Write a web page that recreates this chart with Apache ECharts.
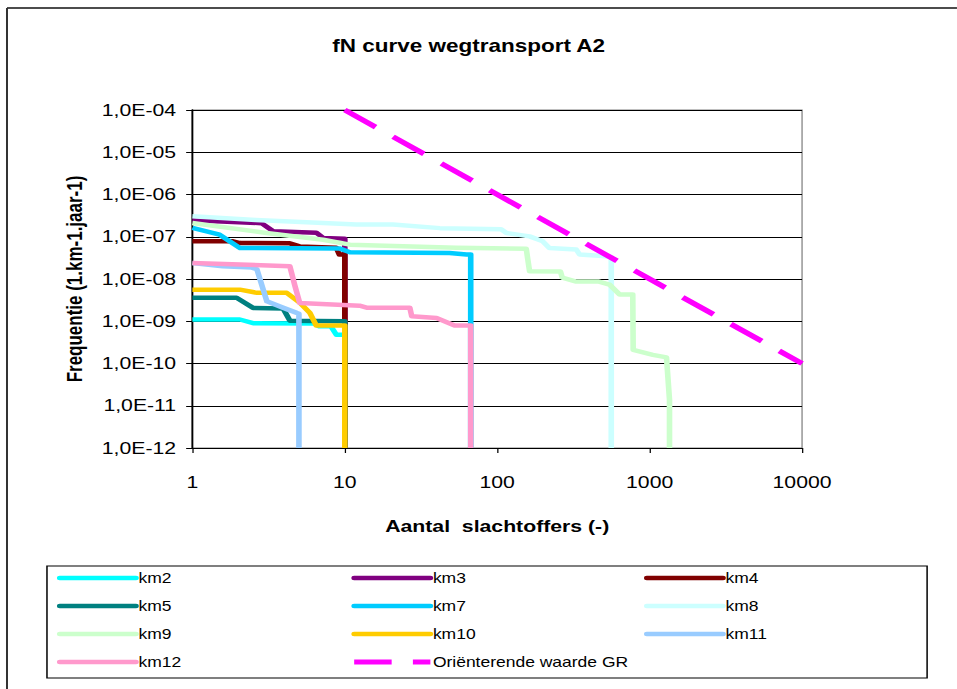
<!DOCTYPE html>
<html>
<head>
<meta charset="utf-8">
<script src="https://cdn.jsdelivr.net/npm/echarts@6/dist/echarts.min.js"></script>
<style>
html,body{margin:0;padding:0;background:#fff;overflow:hidden;width:957px;height:689px;}
#c{width:766px;height:689px;transform:scaleX(1.2493);transform-origin:0 0;}
</style>
</head>
<body>
<div id="c"></div>
<script>
// ---- data (N = aantal slachtoffers, f = frequentie per km per jaar) ----
const seriesNames = ['km2','km3','km4','km5','km7','km8','km9','km10','km11','km12','Oriënterende waarde GR'];
const xTickLabels = ['1','10','100','1000','10000'];
const yTickLabels = ['1,0E-12','1,0E-11','1,0E-10','1,0E-09','1,0E-08','1,0E-07','1,0E-06','1,0E-05','1,0E-04'];

const km2 = [[1,1.1e-9],[2.05,1.1e-9],[2.5,9.0e-10],[6.3,8.8e-10],[6.8,7.6e-10],[8.1,7.6e-10],[8.8,4.8e-10],[9.7,4.8e-10]];
const km3 = [[1,2.45e-7],[2.84,2.1e-7],[3.39,1.35e-7],[6.5,1.25e-7],[7.2,9.4e-8],[10,9.0e-8],[10.05,1e-12]];
const km4 = [[1,7.8e-8],[1.85,7.8e-8],[2.05,7.1e-8],[4.36,7.0e-8],[5.06,5.9e-8],[8.8,5.5e-8],[9.2,3.8e-8],[10,3.8e-8],[10,1e-12]];
const km5 = [[1,3.6e-9],[1.95,3.6e-9],[2.5,2.07e-9],[3.94,2.0e-9],[4.36,1.03e-9],[10,1.0e-9],[10,1e-12]];
const km7 = [[1,1.62e-7],[1.51,1.12e-7],[2.05,5.4e-8],[9.2,5.3e-8],[10.8,4.3e-8],[48.6,4.1e-8],[62.9,3.8e-8],[67,3.8e-8],[67,1e-12]];
const km8 = [[1,3.04e-7],[2.6,2.5e-7],[4.36,2.3e-7],[11.9,1.94e-7],[20.7,1.94e-7],[42,1.6e-7],[106,1.5e-7],[115,1.23e-7],[163,1.02e-7],[199,7.8e-8],[220,5.4e-8],[330,5.0e-8],[347,3.8e-8],[490,3.5e-8],[560,3.3e-8],[560,1e-12]];
const km9 = [[1,2.12e-7],[3.06,1.23e-7],[7.2,8.5e-8],[10.8,6.5e-8],[54,5.5e-8],[155,5.2e-8],[163,1.52e-8],[260,1.5e-8],[267,1.08e-8],[330,8.7e-9],[465,8.7e-9],[545,7.4e-9],[635,4.3e-9],[775,4.3e-9],[780,2.1e-10],[1050,1.6e-10],[1290,1.4e-10],[1350,1.4e-11],[1350,1e-12]];
const km10 = [[1,5.6e-9],[2.05,5.6e-9],[2.65,4.7e-9],[4.16,4.7e-9],[5.06,2.76e-9],[5.9,1.58e-9],[6.5,7.9e-10],[10,7.9e-10],[10,1e-12]];
const km11 = [[1,2.4e-8],[1.58,2.0e-8],[2.45,1.86e-8],[2.65,1.7e-8],[3.08,2.96e-9],[3.92,2.1e-9],[4.84,1.58e-9],[5.0,1.5e-9],[5.0,1e-12]];
const km12 = [[1,2.4e-8],[4.36,2.0e-8],[4.7,7e-9],[5.06,2.7e-9],[12.5,2.34e-9],[13.9,2.1e-9],[26.7,2.1e-9],[27.5,1.31e-9],[40,1.2e-9],[52.5,7.9e-10],[67,7.9e-10],[67,1e-12]];
const grLine = [[10,1e-4],[10000,1e-10]];

const seriesData = [km2,km3,km4,km5,km7,km8,km9,km10,km11,km12,grLine];
const seriesColors = ['#00FFFF','#800080','#800000','#008080','#00CCFF','#CCFFFF','#CCFFCC','#FFCC00','#99CCFF','#FF99CC','#FF00FF'];

const chart = echarts.init(document.getElementById('c'), null, {renderer:'svg', width:766, height:689});

const series = seriesNames.map((n,i) => {
  const isGR = i === seriesNames.length - 1;
  return {
    name: n,
    type: 'line',
    data: seriesData[i],
    symbol: 'none',
    showSymbol: false,
    clip: true,
    lineStyle: {
      color: seriesColors[i],
      width: isGR ? 5 : 4.5,
      type: isGR ? [30,17] : 'solid',
      cap: 'butt',
      join: 'round'
    },
    itemStyle: {color: seriesColors[i]},
    emphasis: {disabled: true},
    z: 2 + i
  };
});

function legendCol(left, names) {
  return {
    orient: 'vertical',
    left: left,
    top: 571,
    itemWidth: 61,
    itemHeight: 14,
    itemGap: 14,
    padding: 0,
    selectedMode: false,
    itemStyle: {opacity: 0},
    textStyle: {fontFamily: 'Liberation Sans, Arial, sans-serif', fontSize: 14, color: '#000', padding: [0,0,0,-3]},
    lineStyle: {width: 4.5, cap: 'round'},
    data: names.map(n => n === 'Oriënterende waarde GR'
      ? {name: n, lineStyle: {cap: 'butt', width: 5}}
      : {name: n})
  };
}

const option = {
  animation: false,
  backgroundColor: '#fff',
  title: {
    text: 'fN curve wegtransport A2',
    left: 266,
    top: 37,
    padding: 0,
    textStyle: {fontFamily: 'Liberation Sans, Arial, sans-serif', fontSize: 18, fontWeight: 'bold', color: '#000'}
  },
  legend: [
    legendCol(45.6, ['km2','km5','km9','km12']),
    legendCol(281, ['km3','km7','km10','Oriënterende waarde GR']),
    legendCol(515.5, ['km4','km8','km11'])
  ],
  grid: {
    left: 154, top: 110, width: 488, height: 338,
    show: true, borderColor: '#808080', borderWidth: 1, backgroundColor: 'transparent'
  },
  xAxis: {
    type: 'log', logBase: 10, min: 1, max: 10000,
    name: 'Aantal  slachtoffers (-)',
    nameLocation: 'middle', nameGap: 70,
    nameTextStyle: {fontFamily: 'Liberation Sans, Arial, sans-serif', fontSize: 17, fontWeight: 'bold', color: '#000'},
    axisLine: {show: true, onZero: false, lineStyle: {color: '#000', width: 1}},
    axisTick: {show: true, inside: false, length: 5, lineStyle: {color: '#000'}},
    minorTick: {show: false},
    splitLine: {show: false},
    axisLabel: {
      margin: 26, fontFamily: 'Liberation Sans, Arial, sans-serif', fontSize: 17, color: '#000',
      formatter: v => xTickLabels[Math.round(Math.log10(v))] || ''
    }
  },
  yAxis: {
    type: 'log', logBase: 10, min: 1e-12, max: 1e-4, splitNumber: 8,
    name: 'Frequentie (1.km-1.jaar-1)',
    nameLocation: 'middle', nameGap: 86, nameRotate: 90,
    nameTextStyle: {fontFamily: 'Liberation Sans, Arial, sans-serif', fontSize: 17, fontWeight: 'bold', color: '#000'},
    axisLine: {show: true, lineStyle: {color: '#000', width: 1.5}},
    axisTick: {show: true, inside: false, length: 5, lineStyle: {color: '#000'}},
    minorTick: {show: false},
    splitLine: {show: true, lineStyle: {color: '#000', width: 1}},
    axisLabel: {
      margin: 13, fontFamily: 'Liberation Sans, Arial, sans-serif', fontSize: 17, color: '#000',
      formatter: v => yTickLabels[Math.round(Math.log10(v)) + 12] || ''
    }
  },
  graphic: [
    {type: 'line', silent: true, z: -10, shape: {x1: 5.6, y1: 8, x2: 766, y2: 8},
     style: {stroke: '#111', lineWidth: 1.5}},
    {type: 'line', silent: true, z: -10, shape: {x1: 5.6, y1: 8, x2: 5.6, y2: 689},
     style: {stroke: '#333', lineWidth: 1.6}},
    {type: 'rect', silent: true, z: -10, shape: {x: 37.6, y: 566, width: 704.5, height: 112},
     style: {fill: 'none', stroke: '#000', lineWidth: 1.2}}
  ],
  series: series
};
chart.setOption(option);
</script>
</body>
</html>
